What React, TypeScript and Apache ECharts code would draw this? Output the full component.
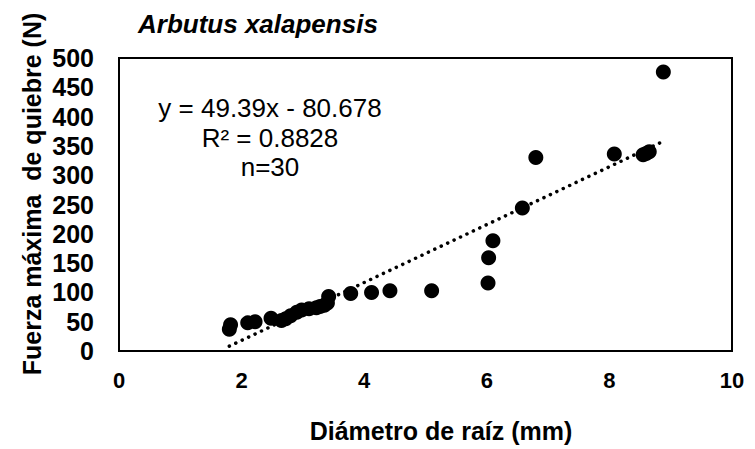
import React, { useEffect, useRef } from "react";
import * as echarts from "echarts";

const diameters = [1.80, 1.82, 2.10, 2.22, 2.48, 2.65, 2.72, 2.80, 2.90, 2.98, 3.10, 3.22, 3.28, 3.35, 3.40, 3.42, 3.78, 4.12, 4.42, 5.10, 6.02, 6.03, 6.10, 6.58, 6.80, 8.08, 8.55, 8.60, 8.65, 8.88];
const forces = [37, 45, 48, 50, 56, 52, 55, 60, 66, 70, 72, 74, 76, 78, 82, 93, 98, 100, 103, 103, 116, 159, 188, 244, 330, 336, 335, 337, 340, 476];
const slope = 49.39;
const intercept = -80.678;
const xTicks = [0, 2, 4, 6, 8, 10];
const yTicks = [0, 50, 100, 150, 200, 250, 300, 350, 400, 450, 500];
const titleText = "Arbutus xalapensis";
const equationLines = ["y = 49.39x - 80.678", "R² = 0.8828", "n=30"];
const xName = "Diámetro de raíz (mm)";
const yName = "Fuerza máxima  de quiebre (N)";

export default function App() {
  const ref = useRef<HTMLDivElement>(null);
  useEffect(() => {
    if (!ref.current) return;
    const chart = echarts.init(ref.current, undefined, { renderer: "svg" });
    const points = diameters.map((d, i) => [d, forces[i]]);
    const xMin = Math.min(...diameters);
    const xMax = Math.max(...diameters);
    const trend = [
      [xMin, slope * xMin + intercept],
      [xMax, slope * xMax + intercept],
    ];
    const font = "'Liberation Sans', Arial, sans-serif";
    chart.setOption({
      animation: false,
      backgroundColor: "#ffffff",
      grid: {
        left: 119,
        right: 23,
        top: 58,
        bottom: 98,
        show: true,
        borderColor: "#000",
        borderWidth: 2,
        backgroundColor: "transparent",
      },
      xAxis: {
        type: "value",
        min: xTicks[0],
        max: xTicks[xTicks.length - 1],
        interval: 2,
        axisLine: { show: false },
        axisTick: { show: false },
        splitLine: { show: false },
        axisLabel: {
          margin: 18,
          color: "#000",
          fontWeight: "bold",
          fontSize: 22,
          fontFamily: font,
        },
      },
      yAxis: {
        type: "value",
        min: yTicks[0],
        max: yTicks[yTicks.length - 1],
        interval: 50,
        axisLine: { show: false },
        axisTick: { show: false },
        splitLine: { show: false },
        axisLabel: {
          margin: 25,
          color: "#000",
          fontWeight: "bold",
          fontSize: 25,
          fontFamily: font,
        },
      },
      series: [
        {
          type: "line",
          data: trend,
          showSymbol: false,
          symbol: "none",
          lineStyle: { color: "#000", width: 3.5, type: [0.1, 7], cap: "round" },
          z: 2,
        },
        {
          type: "scatter",
          data: points,
          symbolSize: 15,
          itemStyle: { color: "#000", opacity: 1 },
          z: 3,
        },
      ],
      graphic: [
        {
          type: "text",
          x: 138,
          y: 24,
          style: {
            text: titleText,
            font: `italic bold 26px ${font}`,
            fill: "#000",
            align: "left",
            verticalAlign: "middle",
          },
        },
        ...equationLines.map((t, i) => ({
          type: "text",
          x: 270,
          y: 108 + i * 29.5,
          style: {
            text: t,
            font: `26px ${font}`,
            fill: "#000",
            align: "center",
            verticalAlign: "middle",
          },
        })),
        {
          type: "text",
          x: 441,
          y: 431,
          style: {
            text: xName,
            font: `bold 25px ${font}`,
            fill: "#000",
            align: "center",
            verticalAlign: "middle",
          },
        },
        {
          type: "text",
          x: 32,
          y: 194,
          rotation: Math.PI / 2,
          style: {
            text: yName,
            font: `bold 25px ${font}`,
            fill: "#000",
            align: "center",
            verticalAlign: "middle",
          },
        },
      ],
    });
    return () => chart.dispose();
  }, []);
  return <div ref={ref} style={{ width: 755, height: 449, position: "absolute", left: 0, top: 0 }} />;
}
